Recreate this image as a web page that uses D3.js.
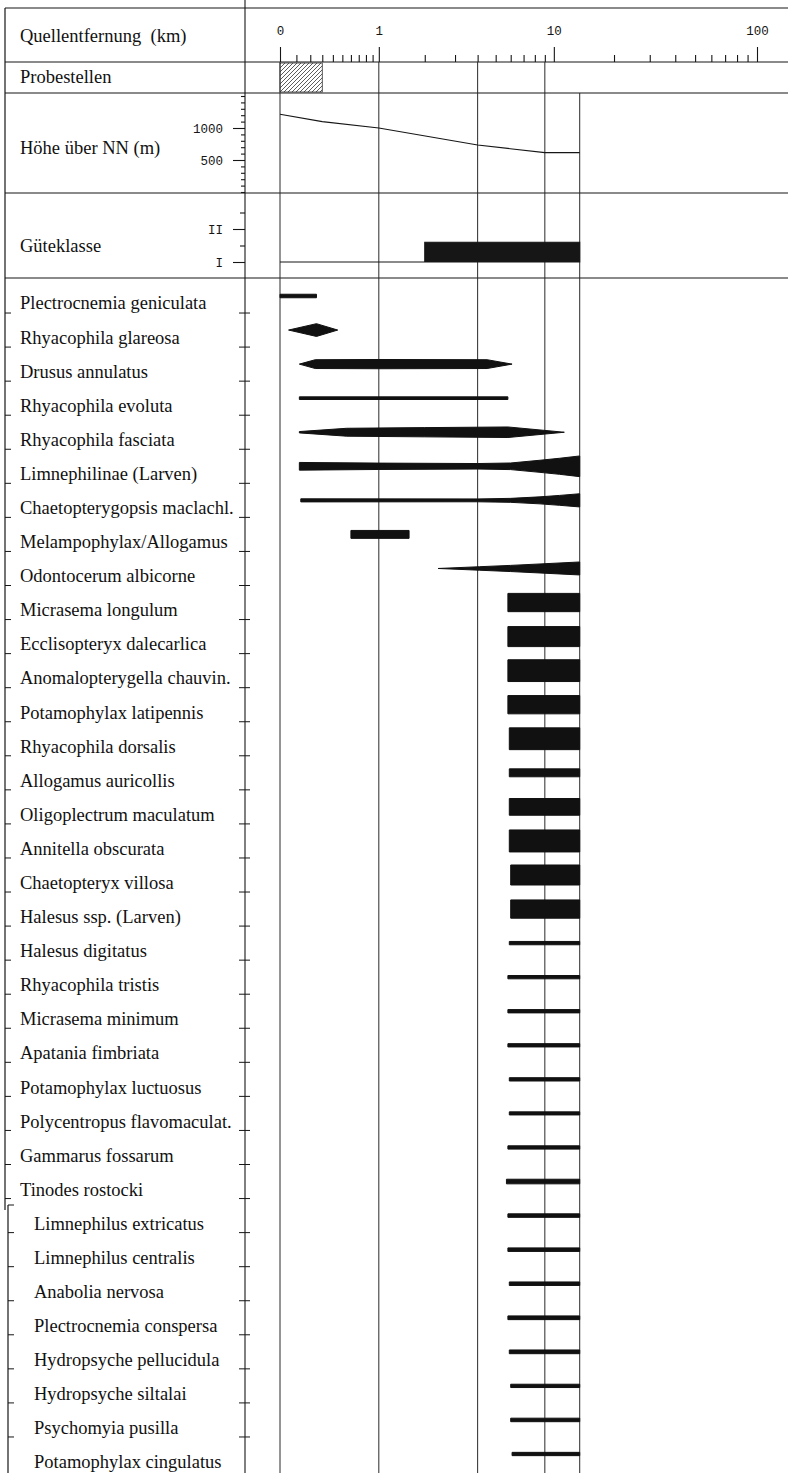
<!DOCTYPE html>
<html>
<head>
<meta charset="utf-8">
<script src="https://cdn.jsdelivr.net/npm/d3@7"></script>
<style>
  body { margin: 0; background: #fff; }
  svg { display: block; }
  .lab { font-family: "Liberation Serif", "DejaVu Serif", serif; font-size: 18.5px; fill: #111; }
  .mono text { font-family: "Liberation Mono", "DejaVu Sans Mono", monospace; font-size: 12.5px; fill: #151515; }
</style>
</head>
<body>
<svg id="drawing_region"></svg>
<script>
// taxa, top to bottom
const taxa = [
  "Plectrocnemia geniculata",
  "Rhyacophila glareosa",
  "Drusus annulatus",
  "Rhyacophila evoluta",
  "Rhyacophila fasciata",
  "Limnephilinae (Larven)",
  "Chaetopterygopsis maclachl.",
  "Melampophylax/Allogamus",
  "Odontocerum albicorne",
  "Micrasema longulum",
  "Ecclisopteryx dalecarlica",
  "Anomalopterygella chauvin.",
  "Potamophylax latipennis",
  "Rhyacophila dorsalis",
  "Allogamus auricollis",
  "Oligoplectrum maculatum",
  "Annitella obscurata",
  "Chaetopteryx villosa",
  "Halesus ssp. (Larven)",
  "Halesus digitatus",
  "Rhyacophila tristis",
  "Micrasema minimum",
  "Apatania fimbriata",
  "Potamophylax luctuosus",
  "Polycentropus flavomaculat.",
  "Gammarus fossarum",
  "Tinodes rostocki",
  "Limnephilus extricatus",
  "Limnephilus centralis",
  "Anabolia nervosa",
  "Plectrocnemia conspersa",
  "Hydropsyche pellucidula",
  "Hydropsyche siltalai",
  "Psychomyia pusilla",
  "Potamophylax cingulatus"
];

// [km from source, relative abundance 0..10] for each taxon
const profiles = [
  [[0, 1.6], [0.25, 1.6]],
  [[0.05, 0], [0.25, 5.8], [0.45, 0]],
  [[0.12, 0], [0.24, 4], [1, 4.2], [4.5, 4], [6.1, 0]],
  [[0.12, 1.2], [5.8, 1.2]],
  [[0.12, 0.6], [0.55, 3.6], [2, 4.2], [5.8, 4.8], [11.3, 0]],
  [[0.12, 3.5], [1, 2.9], [4, 2.5], [6, 3], [8.5, 5.5], [10.7, 7.3], [13.5, 9.4]],
  [[0.13, 1.4], [4, 1.3], [6, 1.8], [8.5, 3.2], [10.7, 4.5], [13.5, 6]],
  [[0.6, 3.6], [1.6, 3.6]],
  [[2.4, 0], [4.1, 1.6], [6, 2.8], [8.5, 4.1], [13.5, 5.9]],
  [[5.8, 8.3], [13.5, 8.3]],
  [[5.8, 9.1], [13.5, 9.1]],
  [[5.8, 9.9], [13.5, 9.9]],
  [[5.8, 8.3], [13.5, 8.3]],
  [[5.9, 9.9], [13.5, 9.9]],
  [[5.9, 3.6], [13.5, 3.6]],
  [[5.9, 7.6], [13.5, 7.6]],
  [[5.9, 10], [13.5, 10]],
  [[6, 9.1], [13.5, 9.1]],
  [[6, 8.3], [13.5, 8.3]],
  [[5.9, 1.5], [13.5, 1.5]],
  [[5.8, 1.5], [13.5, 1.5]],
  [[5.8, 1.5], [13.5, 1.5]],
  [[5.8, 1.5], [13.5, 1.5]],
  [[5.9, 1.5], [13.5, 1.5]],
  [[5.9, 1.4], [13.5, 1.4]],
  [[5.8, 1.5], [13.5, 1.5]],
  [[5.7, 2.1], [13.5, 2.1]],
  [[5.8, 1.6], [13.5, 1.6]],
  [[5.8, 1.6], [13.5, 1.6]],
  [[5.9, 1.6], [13.5, 1.6]],
  [[5.8, 1.7], [13.5, 1.7]],
  [[5.9, 1.7], [13.5, 1.7]],
  [[6, 1.5], [13.5, 1.5]],
  [[6, 1.6], [13.5, 1.6]],
  [[6.1, 1.5], [13.5, 1.5]]
];

const kmMajor = [0, 1, 10, 100];
const kmMinor = [0.1, 0.2, 0.3, 0.4, 0.5, 0.6, 0.7, 0.8, 0.9,
                 2, 3, 4, 5, 6, 7, 8, 9,
                 20, 30, 40, 50, 60, 70, 80, 90];
const stationKm = [0, 1, 4, 9, 13.5];
const sampledKm = [0, 0.3];

const elevKm = [0, 0.3, 1, 4, 9, 13.5];
const elevM = [1215, 1100, 1000, 735, 615, 615];
const elevMajor = [500, 1000];
const elevMinor = [0, 100, 200, 300, 400, 600, 700, 800, 900, 1100, 1200, 1300, 1400, 1500];

const qualKm = [0, 2, 13.5];
const qualClass = [1, 1.6, 1.6];
const qualMajor = [1, 2];
const qualNames = ["I", "II"];
const qualMinor = [1.5, 2.5];

const headers = ["Quellentfernung\u00a0 (km)", "Probestellen", "H\u00f6he \u00fcber NN (m)", "G\u00fcteklasse"];

const W = 788, H = 1473;
const xDiv = 245;
const rowLines = [8, 62, 93, 193, 278];
const headerY = [36, 77, 148, 246];
const ink = "#161616";

const svg = d3.select('#drawing_region')
  .attr('width', W)
  .attr('height', H);

const x = d3.scaleSymlog().constant(0.5).domain([0, 100]).range([280, 757]);
const yElev = d3.scaleLinear().domain([0, 1500]).range([192, 96]);
const yQual = d3.scaleLinear().domain([1, 2]).range([262, 229]);
const yRow = d3.scalePoint().domain(taxa).range([296, 1454]);
const yLab = d3.scalePoint().domain(taxa).range([303, 1462]);
const wAbund = d3.scaleLinear().domain([0, 10]).range([0, 22]);

// hatch for sampled stretch
const defs = svg.append('defs');
defs.append('pattern')
  .attr('id', 'hatch')
  .attr('patternUnits', 'userSpaceOnUse')
  .attr('width', 4).attr('height', 4)
  .append('path')
  .attr('d', 'M-1,1 l2,-2 M0,4 l4,-4 M3,5 l2,-2')
  .attr('stroke', '#333').attr('stroke-width', 0.8);

// frame
svg.selectAll('.hline')
  .data(rowLines)
  .enter().append('line')
  .attr('x1', 5).attr('x2', W)
  .attr('y1', d => d).attr('y2', d => d)
  .attr('stroke', ink).attr('stroke-width', 1.2);

svg.append('line').attr('x1', xDiv).attr('x2', xDiv).attr('y1', 0).attr('y2', H)
  .attr('stroke', ink).attr('stroke-width', 1.1);
svg.append('line').attr('x1', 5).attr('x2', 5).attr('y1', 8).attr('y2', 1210)
  .attr('stroke', ink).attr('stroke-width', 1.2);
svg.append('line').attr('x1', 8).attr('x2', 8).attr('y1', 1205).attr('y2', H)
  .attr('stroke', ink).attr('stroke-width', 1.2);
svg.append('line').attr('x1', 8).attr('x2', 14).attr('y1', 1205).attr('y2', 1205)
  .attr('stroke', ink).attr('stroke-width', 1);

// header labels
svg.selectAll('.head')
  .data(headers)
  .enter().append('text')
  .attr('class', 'lab')
  .attr('x', 20)
  .attr('y', (d, i) => headerY[i])
  .attr('dy', '0.35em')
  .text(d => d);

// distance axis
const tidy = g => {
  g.select('.domain').remove();
  g.selectAll('.tick line').attr('stroke', ink).attr('stroke-width', 1.1);
};
svg.append('g')
  .attr('transform', 'translate(0,62)')
  .call(d3.axisTop(x).tickValues(kmMinor).tickSize(7).tickFormat(''))
  .call(tidy);
svg.append('g')
  .attr('class', 'mono')
  .attr('transform', 'translate(0,62)')
  .call(d3.axisTop(x).tickValues(kmMajor).tickSize(15).tickPadding(12).tickFormat(d3.format('d')))
  .call(tidy);

// station lines
svg.selectAll('.station')
  .data(stationKm)
  .enter().append('line')
  .attr('x1', d => x(d)).attr('x2', d => x(d))
  .attr('y1', d => d > 10 ? 93 : 62)
  .attr('y2', H)
  .attr('stroke', '#2a2a2a').attr('stroke-width', 1);

// sampled stretch
svg.append('rect')
  .attr('x', x(sampledKm[0]))
  .attr('y', 63)
  .attr('width', x(sampledKm[1]) - x(sampledKm[0]))
  .attr('height', 29)
  .attr('fill', 'url(#hatch)')
  .attr('stroke', '#333').attr('stroke-width', 0.8);

// elevation
svg.append('g')
  .attr('transform', `translate(${xDiv},0)`)
  .call(d3.axisLeft(yElev).tickValues(elevMinor).tickSize(4).tickFormat(''))
  .call(tidy);
svg.append('g')
  .attr('class', 'mono')
  .attr('transform', `translate(${xDiv},0)`)
  .call(d3.axisLeft(yElev).tickValues(elevMajor).tickSize(12).tickPadding(10).tickFormat(d3.format('d')))
  .call(tidy);

const elevLine = d3.line()
  .x((d, i) => x(elevKm[i]))
  .y(d => yElev(d));
svg.append('path')
  .datum(elevM)
  .attr('d', elevLine)
  .attr('fill', 'none')
  .attr('stroke', ink).attr('stroke-width', 1.1);

// water quality class
svg.append('g')
  .attr('transform', `translate(${xDiv},0)`)
  .call(d3.axisLeft(yQual).tickValues(qualMinor).tickSize(5).tickFormat(''))
  .call(tidy);
svg.append('g')
  .attr('class', 'mono')
  .attr('transform', `translate(${xDiv},0)`)
  .call(d3.axisLeft(yQual).tickValues(qualMajor).tickSize(12).tickPadding(10)
    .tickFormat((d, i) => qualNames[i]))
  .call(tidy);

const qualArea = d3.area()
  .curve(d3.curveStepAfter)
  .x((d, i) => x(qualKm[i]))
  .y0(yQual(1))
  .y1(d => yQual(d));
svg.append('path')
  .datum(qualClass)
  .attr('d', qualArea)
  .attr('fill', ink)
  .attr('stroke', ink).attr('stroke-width', 1.1);

// row separators
const step = yRow.step();
const seps = taxa.slice(0, -1).map(t => yRow(t) + step / 2);
svg.selectAll('.sepL')
  .data(seps)
  .enter().append('line')
  .attr('x1', d => d > 1205 ? 8 : 5).attr('x2', d => d > 1205 ? 14 : 11)
  .attr('y1', d => d).attr('y2', d => d)
  .attr('stroke', ink).attr('stroke-width', 1);
svg.selectAll('.sepR')
  .data(seps)
  .enter().append('line')
  .attr('x1', xDiv - 6).attr('x2', xDiv + 5)
  .attr('y1', d => d).attr('y2', d => d)
  .attr('stroke', ink).attr('stroke-width', 1);

// occurrence bands
const band = d3.area()
  .x(d => x(d[0]))
  .y0(d => -wAbund(d[1]) / 2)
  .y1(d => wAbund(d[1]) / 2);

svg.selectAll('.band')
  .data(profiles)
  .enter().append('path')
  .attr('transform', (d, i) => `translate(0,${yRow(taxa[i])})`)
  .attr('d', band)
  .attr('fill', '#111')
  .attr('stroke', '#111').attr('stroke-width', 1)
  .attr('stroke-linejoin', 'round');

// taxon names
svg.selectAll('.taxon')
  .data(taxa)
  .enter().append('text')
  .attr('class', 'lab')
  .attr('x', (d, i) => i >= 27 ? 34 : 20)
  .attr('y', d => yLab(d))
  .attr('dy', '0.35em')
  .text(d => d);
</script>
</body>
</html>
